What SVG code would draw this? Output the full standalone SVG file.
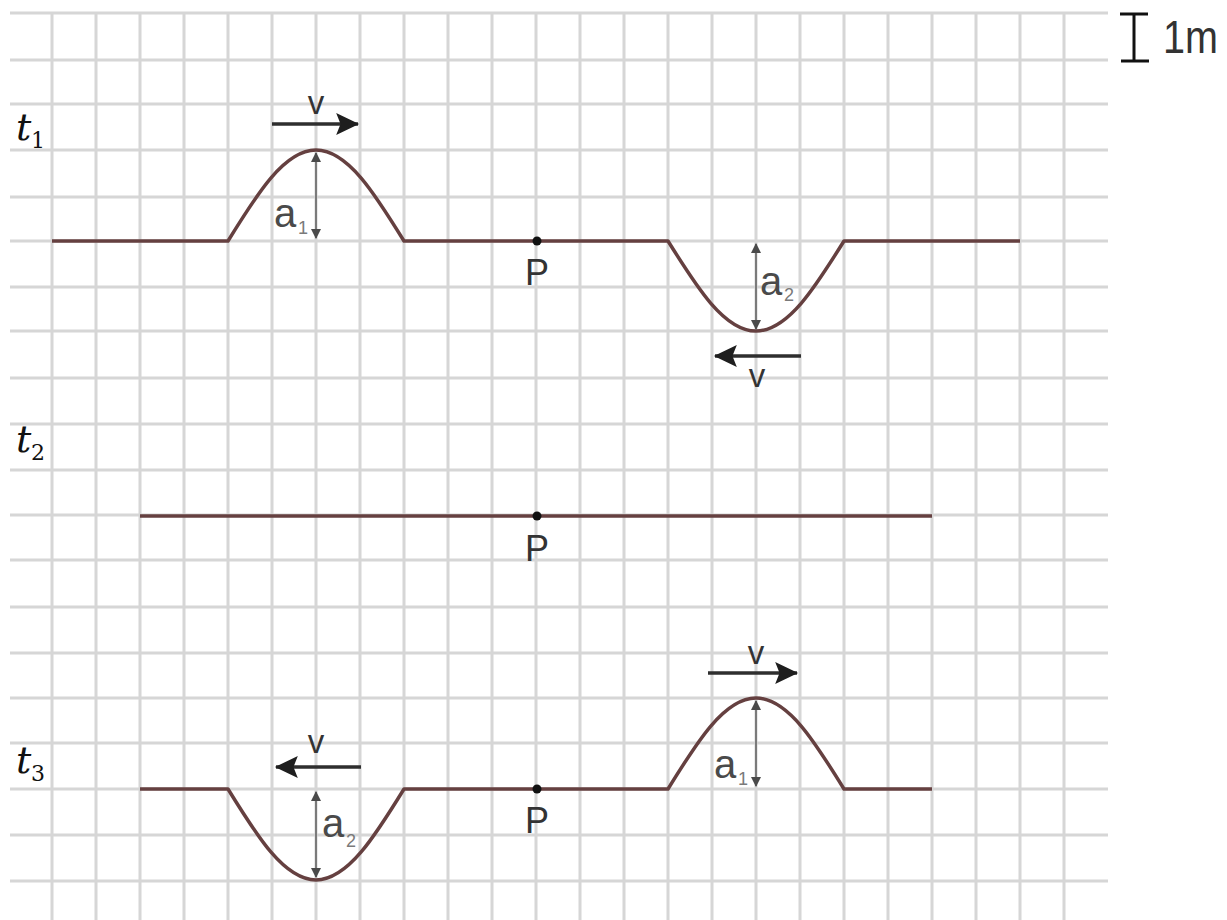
<svg xmlns="http://www.w3.org/2000/svg" width="1227" height="920" viewBox="0 0 1227 920">
<style>
.grid line{stroke:#d6d6d6;stroke-width:3}
.wave{fill:none;stroke:#654040;stroke-width:3.5;stroke-linejoin:round}
.vel{stroke:#2e2e2e;stroke-width:3.5;marker-end:url(#vhead)}
.amp{stroke:#7a7a7a;stroke-width:2;marker-start:url(#ahead);marker-end:url(#ahead)}
.lbl{font-family:"Liberation Sans",Arial,sans-serif;fill:#333}
.v{font-size:33px;text-anchor:middle;fill:#333}
.a{font-size:40px;fill:#4a4a4a}
.sub{font-size:18px;fill:#7a7a7a}
.P{font-size:36px;text-anchor:middle;fill:#333}
.t{font-family:"DejaVu Serif","Liberation Serif",serif;font-style:italic;font-size:38px;fill:#111}
.tsub{font-family:"DejaVu Serif","Liberation Serif",serif;font-size:22px;fill:#111}
</style>
<defs>
<marker id="vhead" markerUnits="userSpaceOnUse" markerWidth="24" markerHeight="24" viewBox="0 0 22 22" refX="20" refY="11" orient="auto">
<path d="M0,1 L21,11 L0,21 L4,11 z" fill="#1e1e1e"/>
</marker>
<marker id="ahead" markerUnits="userSpaceOnUse" markerWidth="10" markerHeight="10" viewBox="0 0 10 10" refX="9" refY="5" orient="auto-start-reverse">
<path d="M0,0 L10,5 L0,10 z" fill="#4a4a4a"/>
</marker>
</defs>
<rect width="1227" height="920" fill="#ffffff"/>
<g id="grid" class="grid">
<line x1="10" y1="13" x2="1108" y2="13"/>
<line x1="10" y1="60" x2="1108" y2="60"/>
<line x1="10" y1="104" x2="1108" y2="104"/>
<line x1="10" y1="150" x2="1108" y2="150"/>
<line x1="10" y1="197" x2="1108" y2="197"/>
<line x1="10" y1="241" x2="1108" y2="241"/>
<line x1="10" y1="287" x2="1108" y2="287"/>
<line x1="10" y1="331" x2="1108" y2="331"/>
<line x1="10" y1="378" x2="1108" y2="378"/>
<line x1="10" y1="424" x2="1108" y2="424"/>
<line x1="10" y1="470" x2="1108" y2="470"/>
<line x1="10" y1="515" x2="1108" y2="515"/>
<line x1="10" y1="560" x2="1108" y2="560"/>
<line x1="10" y1="607" x2="1108" y2="607"/>
<line x1="10" y1="653" x2="1108" y2="653"/>
<line x1="10" y1="698" x2="1108" y2="698"/>
<line x1="10" y1="743" x2="1108" y2="743"/>
<line x1="10" y1="789" x2="1108" y2="789"/>
<line x1="10" y1="835" x2="1108" y2="835"/>
<line x1="10" y1="881" x2="1108" y2="881"/>
<line x1="52" y1="13" x2="52" y2="920"/>
<line x1="96" y1="13" x2="96" y2="920"/>
<line x1="140" y1="13" x2="140" y2="920"/>
<line x1="184" y1="13" x2="184" y2="920"/>
<line x1="228" y1="13" x2="228" y2="920"/>
<line x1="272" y1="13" x2="272" y2="920"/>
<line x1="316" y1="13" x2="316" y2="920"/>
<line x1="360" y1="13" x2="360" y2="920"/>
<line x1="404" y1="13" x2="404" y2="920"/>
<line x1="448" y1="13" x2="448" y2="920"/>
<line x1="492" y1="13" x2="492" y2="920"/>
<line x1="536" y1="13" x2="536" y2="920"/>
<line x1="580" y1="13" x2="580" y2="920"/>
<line x1="624" y1="13" x2="624" y2="920"/>
<line x1="668" y1="13" x2="668" y2="920"/>
<line x1="712" y1="13" x2="712" y2="920"/>
<line x1="756" y1="13" x2="756" y2="920"/>
<line x1="800" y1="13" x2="800" y2="920"/>
<line x1="844" y1="13" x2="844" y2="920"/>
<line x1="888" y1="13" x2="888" y2="920"/>
<line x1="932" y1="13" x2="932" y2="920"/>
<line x1="976" y1="13" x2="976" y2="920"/>
<line x1="1020" y1="13" x2="1020" y2="920"/>
<line x1="1064" y1="13" x2="1064" y2="920"/>
</g>
<g id="scale">
<g stroke="#111" stroke-width="3">
<line x1="1120" y1="14" x2="1148" y2="14"/>
<line x1="1134" y1="14" x2="1134" y2="61"/>
<line x1="1121" y1="61" x2="1149" y2="61"/>
</g>
<text class="lbl" x="1163" y="53" font-size="46" fill="#111" textLength="55" lengthAdjust="spacingAndGlyphs">1m</text>
</g>
<g id="labels-t">
<text class="t" x="16" y="140">t</text><text class="tsub" x="31" y="148">1</text>
<text class="t" x="16" y="452">t</text><text class="tsub" x="31" y="460">2</text>
<text class="t" x="16" y="773">t</text><text class="tsub" x="31" y="781">3</text>
</g>
<g id="wave-t1">
<path class="wave" d="M52,241 H228 C256.7,194.4 284.15,150 316,150 C347.85,150 375.3,194.4 404,241 H668 C696.7,287.1 724.15,331 756,331 C787.85,331 815.3,287.1 844,241 H1020"/>
</g>
<g id="wave-t2">
<path class="wave" d="M140,516 H932"/>
</g>
<g id="wave-t3">
<path class="wave" d="M140,789 H228 C256.7,835.6 284.15,880 316,880 C347.85,880 375.3,835.6 404,789 H668 C696.7,742.4 724.15,698 756,698 C787.85,698 815.3,742.4 844,789 H932"/>
</g>
<g id="points">
<circle cx="537" cy="241" r="4.5" fill="#111"/>
<circle cx="537" cy="516" r="4.5" fill="#111"/>
<circle cx="537" cy="789" r="4.5" fill="#111"/>
<text class="lbl P" x="537" y="285">P</text>
<text class="lbl P" x="537" y="561">P</text>
<text class="lbl P" x="537" y="833">P</text>
</g>
<g id="connectors">
<line class="vel" x1="272" y1="124" x2="358" y2="124"/>
<line class="vel" x1="801" y1="356" x2="715" y2="356"/>
<line class="vel" x1="361" y1="767" x2="276" y2="767"/>
<line class="vel" x1="708" y1="673" x2="797" y2="673"/>
<line class="amp" x1="316" y1="153" x2="316" y2="238"/>
<line class="amp" x1="756" y1="244" x2="756" y2="329"/>
<line class="amp" x1="316" y1="792" x2="316" y2="877"/>
<line class="amp" x1="756" y1="701" x2="756" y2="786"/>
</g>
<g id="labels-v">
<text class="lbl v" x="316" y="114">v</text>
<text class="lbl v" x="757" y="387">v</text>
<text class="lbl v" x="316" y="753">v</text>
<text class="lbl v" x="756" y="664">v</text>
</g>
<g id="labels-a">
<text class="lbl a" x="274" y="227">a</text><text class="lbl sub" x="298" y="234">1</text>
<text class="lbl a" x="760" y="295">a</text><text class="lbl sub" x="784" y="301">2</text>
<text class="lbl a" x="322" y="837">a</text><text class="lbl sub" x="346" y="847">2</text>
<text class="lbl a" x="714" y="778">a</text><text class="lbl sub" x="738" y="785">1</text>
</g>
</svg>
